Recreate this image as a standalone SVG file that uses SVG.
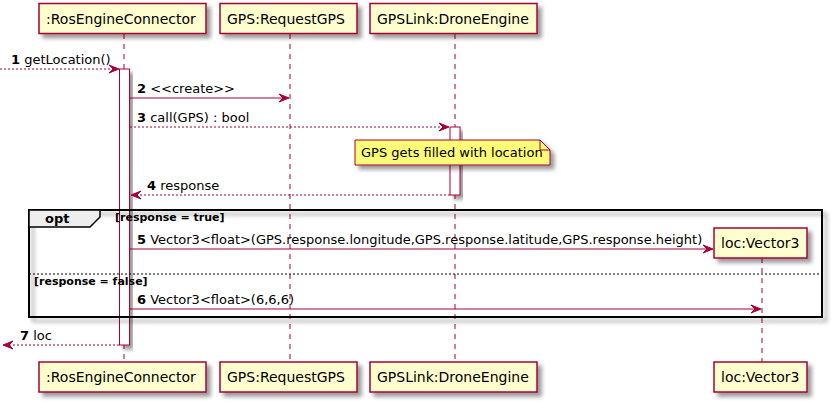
<svg xmlns="http://www.w3.org/2000/svg" width="832" height="402" viewBox="0 0 832 402">
<defs>
<filter id="sh" x="-20%" y="-20%" width="150%" height="160%">
<feGaussianBlur in="SourceAlpha" stdDeviation="2" result="b"/>
<feOffset in="b" dx="4" dy="4" result="o"/>
<feComponentTransfer in="o" result="s"><feFuncA type="linear" slope="0.4"/></feComponentTransfer>
<feMerge><feMergeNode in="s"/><feMergeNode in="SourceGraphic"/></feMerge>
</filter>
<style>
text{font-family:"DejaVu Sans","Liberation Sans",sans-serif;fill:#000}
.part rect{fill:#FEFECE;stroke:#A80036;stroke-width:1.5}
.pt{font-size:14px}
.life{stroke:#A80036;stroke-width:1;stroke-dasharray:5,5}
.act{fill:#FFFFFF;stroke:#A80036;stroke-width:1}
.msg{stroke:#A80036;stroke-width:1;fill:none}
.dot{stroke-dasharray:2,2}
.ah{fill:#A80036;stroke:#A80036;stroke-width:1}
.mt{font-size:13px}
.b{font-weight:bold}
.cond{font-size:11px;font-weight:bold}
</style>
</defs>
<rect width="832" height="402" fill="#FFFFFF"/>

<g id="lifelines">
<line class="life" x1="124" y1="34" x2="124" y2="362"/>
<line class="life" x1="290" y1="34" x2="290" y2="362"/>
<line class="life" x1="455" y1="34" x2="455" y2="362"/>
<line class="life" x1="762" y1="258" x2="762" y2="362"/>
</g>

<g id="p_ros" class="part">
<rect x="39" y="3.5" width="167" height="30" filter="url(#sh)"/>
<text class="pt" x="46" y="23.5">:RosEngineConnector</text>
<rect x="39" y="362" width="167" height="30" filter="url(#sh)"/>
<text class="pt" x="46" y="382">:RosEngineConnector</text>
</g>
<g id="p_gps" class="part">
<rect x="220" y="3.5" width="137" height="30" filter="url(#sh)"/>
<text class="pt" x="227" y="23.5">GPS:RequestGPS</text>
<rect x="220" y="362" width="137" height="30" filter="url(#sh)"/>
<text class="pt" x="227" y="382">GPS:RequestGPS</text>
</g>
<g id="p_link" class="part">
<rect x="370" y="3.5" width="167" height="30" filter="url(#sh)"/>
<text class="pt" x="377" y="23.5">GPSLink:DroneEngine</text>
<rect x="370" y="362" width="167" height="30" filter="url(#sh)"/>
<text class="pt" x="377" y="382">GPSLink:DroneEngine</text>
</g>

<g id="activations">
<rect class="act" x="119.5" y="69" width="10" height="276" filter="url(#sh)"/>
<rect class="act" x="450" y="127" width="10" height="68" filter="url(#sh)"/>
</g>

<g id="frame_opt">
<rect x="29" y="210" width="793" height="107" fill="none" stroke="#000" stroke-width="2" filter="url(#sh)"/>
<polygon points="29,210 100,210 100,217 90,227 29,227" fill="#EEEEEE" stroke="#000" stroke-width="1.5"/>
<text class="mt b" x="45" y="223">opt</text>
<text class="cond" x="115" y="221">[response = true]</text>
<line x1="29" y1="274" x2="822" y2="274" stroke="#000" stroke-width="1" stroke-dasharray="2,2"/>
<text class="cond" x="34" y="285">[response = false]</text>
</g>

<g id="p_loc" class="part">
<rect x="714" y="228" width="93" height="30" filter="url(#sh)"/>
<text class="pt" x="721" y="248">loc:Vector3</text>
<rect x="714" y="362" width="93" height="30" filter="url(#sh)"/>
<text class="pt" x="721" y="382">loc:Vector3</text>
</g>

<g id="note">
<polygon points="355,140 540,140 550,150 550,165 355,165" fill="#FBFB77" stroke="#A80036" stroke-width="1" filter="url(#sh)"/>
<polyline points="540,140 540,150 550,150" fill="none" stroke="#A80036" stroke-width="1"/>
<text class="mt" x="361" y="157">GPS gets filled with location</text>
</g>

<g id="connectors">
<line class="msg dot" x1="0" y1="69" x2="117" y2="69"/>
<polygon class="ah" points="109,65 119,69 109,73 113,69"/>
<text class="mt" x="11" y="64"><tspan class="b">1</tspan> getLocation()</text>

<line class="msg" x1="130" y1="98" x2="287" y2="98"/>
<polygon class="ah" points="279,94 289,98 279,102 283,98"/>
<text class="mt" x="137" y="93"><tspan class="b">2</tspan> &lt;&lt;create&gt;&gt;</text>

<line class="msg dot" x1="130" y1="127" x2="447" y2="127"/>
<polygon class="ah" points="439,123 449,127 439,131 443,127"/>
<text class="mt" x="137" y="122"><tspan class="b">3</tspan> call(GPS) : bool</text>

<line class="msg dot" x1="450" y1="195" x2="133" y2="195"/>
<polygon class="ah" points="141,191 131,195 141,199 137,195"/>
<text class="mt" x="147" y="190"><tspan class="b">4</tspan> response</text>

<line class="msg" x1="130" y1="249" x2="711" y2="249"/>
<polygon class="ah" points="703,245 713,249 703,253 707,249"/>
<text class="mt" x="137" y="244"><tspan class="b">5</tspan> Vector3&lt;float&gt;(GPS.response.longitude,GPS.response.latitude,GPS.response.height)</text>

<line class="msg" x1="130" y1="309" x2="759" y2="309"/>
<polygon class="ah" points="751,305 761,309 751,313 755,309"/>
<text class="mt" x="137" y="304"><tspan class="b">6</tspan> Vector3&lt;float&gt;(6,6,6)</text>

<line class="msg dot" x1="119" y1="345" x2="5" y2="345"/>
<polygon class="ah" points="13,341 3,345 13,349 9,345"/>
<text class="mt" x="20" y="340"><tspan class="b">7</tspan> loc</text>
</g>
</svg>
